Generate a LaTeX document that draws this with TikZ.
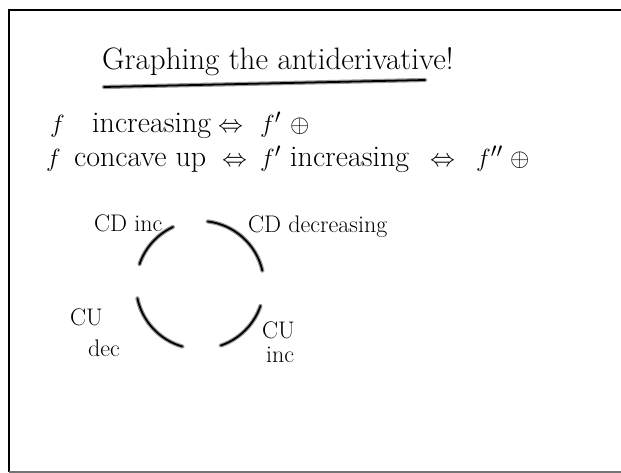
\documentclass[tikz,border=0pt]{standalone}
\usepackage{amsmath,amssymb}
\begin{document}
\begin{tikzpicture}[x=1pt,y=-1pt,
  ink/.style={line width=1.8pt,black,line cap=round,
    preaction={draw,line width=4.2pt,black!40,line cap=round}},
  txt/.style={inner sep=0pt,anchor=base west,text=black},
  big/.style={txt,font=\fontsize{30}{34}\selectfont},
  lab/.style={txt,font=\fontsize{24}{28}\selectfont}]
\useasboundingbox (0,0) rectangle (621,473);
% frame
\coordinate (tl) at (9,10);
\coordinate (tr) at (621,10);
\coordinate (bl) at (9,472);
\coordinate (br) at (621,472);
\draw[line width=2.5pt] (tr) -- (tl) -- (bl);
\draw[line width=2pt,black!55] (bl) -- (br);
% title
\node[txt,font=\fontsize{31}{34}\selectfont] (title) at (102,70) {Graphing the antiderivative!};
\coordinate (ul1) at (104,87);
\coordinate (ul2) at (425,80);
\draw[ink] (ul1) -- (ul2);
% line 1
\node[big] (f1) at (50,133) {$f$};
\node[big] (inc1) at (92,133) {increasing};
\node[big] (eq1) at (218,133) {$\Leftrightarrow$};
\node[big] (fp1) at (260,133) {$f'$};
\node[big] (pl1) at (290,133) {$\oplus$};
% line 2
\node[big] (f2) at (46,167) {$f$};
\node[big] (cu) at (74,167) {concave up};
\node[big] (eq2) at (222,167) {$\Leftrightarrow$};
\node[big] (fp2) at (260,167) {$f'$};
\node[big] (inc2) at (290,167) {increasing};
\node[big] (eq3) at (430,167) {$\Leftrightarrow$};
\node[big] (fpp) at (476,167) {$f''$};
\node[big] (pl2) at (510,167) {$\oplus$};
% arcs
\coordinate (c) at (200,285);
\draw[ink] ([shift={(168:64)}]c) arc[start angle=168,end angle=106,radius=64];
\draw[ink] ([shift={(71:64)}]c) arc[start angle=71,end angle=19,radius=64];
\draw[ink] ([shift={(-13:64)}]c) arc[start angle=-13,end angle=-83,radius=64];
\draw[ink] ([shift={(199:64)}]c) arc[start angle=199,end angle=245,radius=64];
% labels
\node[lab] (cdinc) at (94,232) {CD inc};
\node[lab] (cddec) at (248,233) {CD decreasing};
\node[lab] (cu1) at (70,325) {CU};
\node[lab] (dec) at (88,356) {dec};
\node[lab] (cu2) at (262,338) {CU};
\node[lab] (inc) at (266,362) {inc};
\end{tikzpicture}
\end{document}
